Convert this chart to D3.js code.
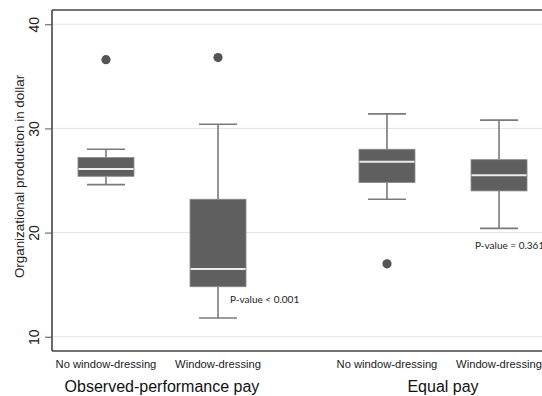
<!DOCTYPE html>
<html>
<head>
<meta charset="utf-8">
<script src="https://cdn.jsdelivr.net/npm/d3@7"></script>
<style>
  html, body { margin: 0; padding: 0; background: #fff; }
  svg { display: block; }
</style>
</head>
<body>
<script>
// ---- data ----
const groups = ["Observed-performance pay", "Equal pay"];
const categories = ["No window-dressing", "Window-dressing"];
const lowerWhisker = [24.6, 11.8, 23.2, 20.4];
const q1 = [25.4, 14.8, 24.8, 24.0];
const medians = [26.1, 16.5, 26.8, 25.5];
const q3 = [27.2, 23.2, 28.0, 27.0];
const upperWhisker = [28.0, 30.4, 31.4, 30.8];
const outliers = [[36.6], [36.8], [17.0], []];
const yTicks = [10, 20, 30, 40];
const pLabels = ["P-value < 0.001", "P-value = 0.361"];
const yTitle = "Organizational production in dollar";

const W = 542, H = 396;
const margin = { left: 52, top: 10, bottom: 351 };

const svg = d3.select("body").append("svg").attr("width", W).attr("height", H);

const y = d3.scaleLinear().domain([8.63, 41.37]).range([margin.bottom, margin.top]);

const xGroup = d3.scaleBand().domain(groups).range([21.5, 583.5]).padding(0);
const xCat = d3.scalePoint().domain(categories).range([0, xGroup.bandwidth()]).padding(0.754);

const boxes = [];
groups.forEach((g, gi) => categories.forEach((c, ci) => {
  const i = gi * 2 + ci;
  boxes.push({ g, c, i, cx: xGroup(g) + xCat(c) });
}));

// gridlines
svg.append("g").selectAll("line").data(yTicks).join("line")
  .attr("x1", margin.left).attr("x2", W)
  .attr("y1", d => y(d)).attr("y2", d => y(d))
  .attr("stroke", "#e4e4e4").attr("stroke-width", 1);

// y axis
const yAxis = svg.append("g").attr("transform", `translate(${margin.left},0)`)
  .call(d3.axisLeft(y).tickValues(yTicks).tickSize(7).tickPadding(0).tickFormat(d3.format("d")));
yAxis.select(".domain").remove();
yAxis.selectAll(".tick line").attr("stroke", "#555").attr("stroke-width", 1);
yAxis.selectAll(".tick text")
  .attr("transform", "rotate(-90)")
  .attr("x", 0).attr("y", -13)
  .attr("dy", "0")
  .attr("text-anchor", "middle")
  .style("font-family", "'Liberation Sans', Arial, sans-serif")
  .style("font-size", "14px").attr("fill", "#222");

// frame lines
svg.append("line").attr("x1", margin.left).attr("x2", margin.left)
  .attr("y1", margin.top).attr("y2", margin.bottom)
  .attr("stroke", "#444").attr("stroke-width", 1.6);
svg.append("line").attr("x1", margin.left).attr("x2", W)
  .attr("y1", margin.top).attr("y2", margin.top)
  .attr("stroke", "#444").attr("stroke-width", 1.6);
svg.append("line").attr("x1", margin.left).attr("x2", W)
  .attr("y1", margin.bottom).attr("y2", margin.bottom)
  .attr("stroke", "#444").attr("stroke-width", 1.6);

// y title
svg.append("text")
  .attr("transform", `translate(24,${(margin.top + margin.bottom) / 2 - 4}) rotate(-90)`)
  .attr("text-anchor", "middle")
  .style("font-family", "'Liberation Sans', Arial, sans-serif")
  .style("font-size", "13.4px").attr("fill", "#222")
  .text(yTitle);

const boxW = 56, capW = 38;
const bg = svg.append("g");
const whiskColor = "#7a7a7a";

boxes.forEach(b => {
  const g = bg.append("g");
  // whiskers
  g.append("line").attr("x1", b.cx).attr("x2", b.cx)
    .attr("y1", y(upperWhisker[b.i])).attr("y2", y(q3[b.i]))
    .attr("stroke", whiskColor).attr("stroke-width", 1.6);
  g.append("line").attr("x1", b.cx).attr("x2", b.cx)
    .attr("y1", y(q1[b.i])).attr("y2", y(lowerWhisker[b.i]))
    .attr("stroke", whiskColor).attr("stroke-width", 1.6);
  [upperWhisker[b.i], lowerWhisker[b.i]].forEach(v => {
    g.append("line").attr("x1", b.cx - capW / 2).attr("x2", b.cx + capW / 2)
      .attr("y1", y(v)).attr("y2", y(v))
      .attr("stroke", whiskColor).attr("stroke-width", 1.6);
  });
  // box
  g.append("rect").attr("x", b.cx - boxW / 2).attr("width", boxW)
    .attr("y", y(q3[b.i])).attr("height", y(q1[b.i]) - y(q3[b.i]))
    .attr("fill", "#5f5f5f").attr("stroke", "#8a8a8a").attr("stroke-width", 0.8);
  // median
  g.append("line").attr("x1", b.cx - boxW / 2 + 0.5).attr("x2", b.cx + boxW / 2 - 0.5)
    .attr("y1", y(medians[b.i])).attr("y2", y(medians[b.i]))
    .attr("stroke", "#ececec").attr("stroke-width", 2);
  // outliers
  g.selectAll("circle").data(outliers[b.i]).join("circle")
    .attr("cx", b.cx).attr("cy", d => y(d)).attr("r", 4.6)
    .attr("fill", "#555");
  // category label
  svg.append("text").attr("x", b.cx).attr("y", 368)
    .attr("text-anchor", "middle")
    .style("font-family", "'Liberation Sans', Arial, sans-serif")
    .style("font-size", "11.2px").attr("fill", "#222")
    .text(b.c);
});

// group labels
groups.forEach(g => {
  svg.append("text").attr("x", xGroup(g) + xGroup.bandwidth() / 2).attr("y", 392)
    .attr("text-anchor", "middle")
    .style("font-family", "'Liberation Sans', Arial, sans-serif")
    .style("font-size", "16px").attr("fill", "#111")
    .text(g);
});

// p-value annotations (anchored near lower whisker of the window-dressing box)
const pInfo = [
  { i: 1, dx: 12, dy: -15 },
  { i: 3, dx: -24, dy: 21 }
];
pInfo.forEach((p, k) => {
  const b = boxes[p.i];
  svg.append("text")
    .attr("x", b.cx + p.dx).attr("y", y(lowerWhisker[p.i]) + p.dy)
    .style("font-family", "Lato, 'Open Sans', sans-serif")
    .style("font-size", "10px").attr("fill", "#222")
    .text(pLabels[k]);
});
</script>
</body>
</html>
